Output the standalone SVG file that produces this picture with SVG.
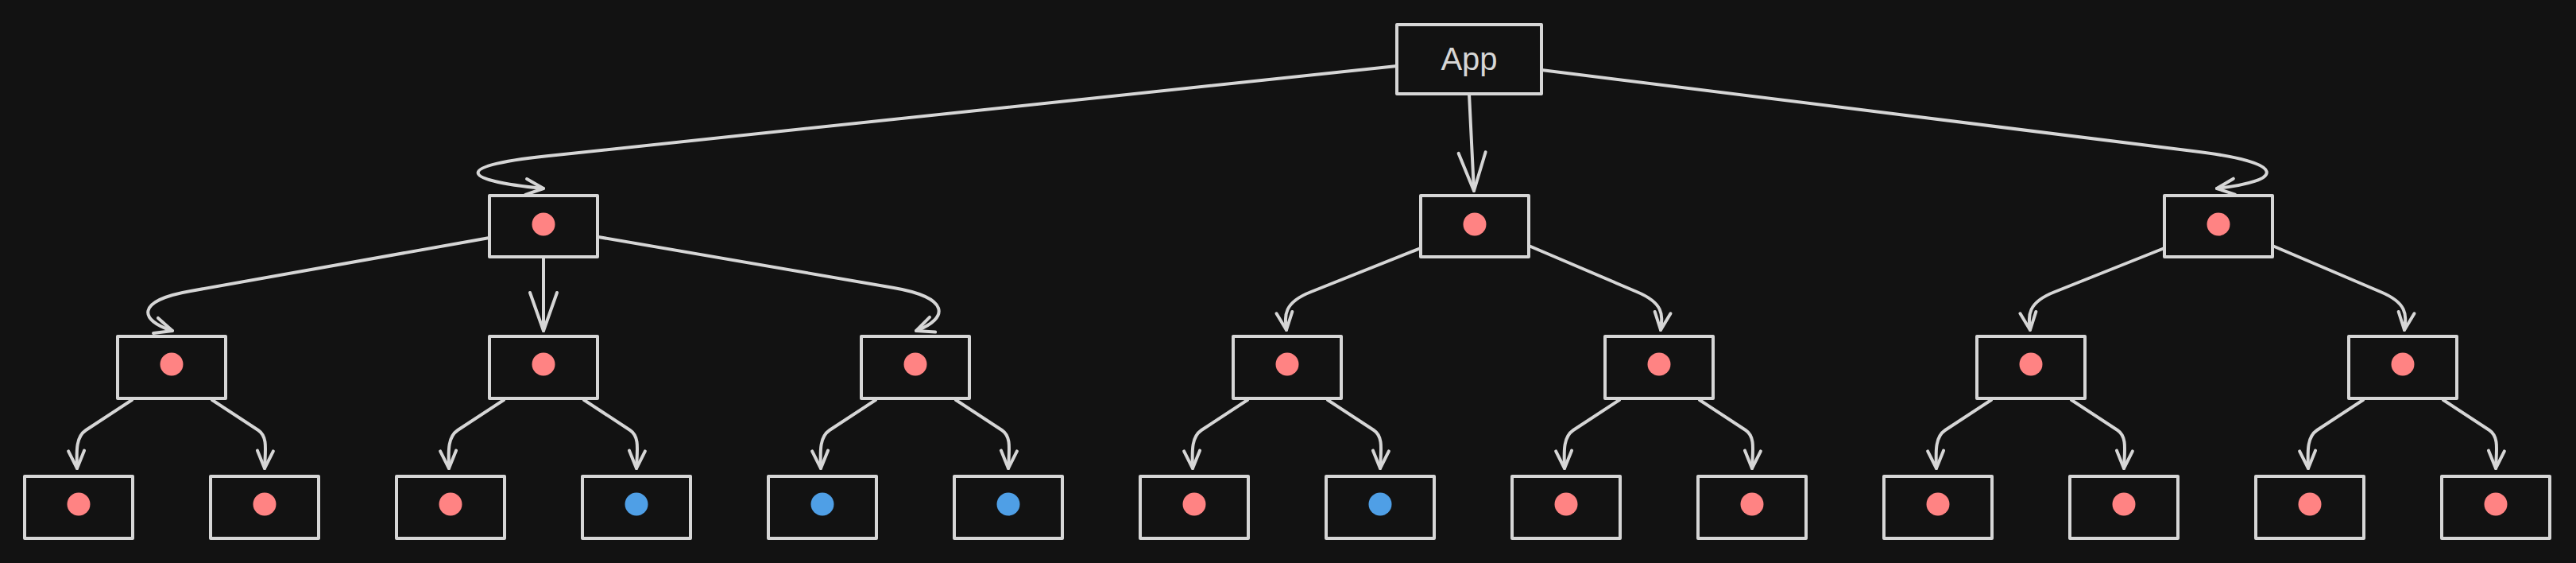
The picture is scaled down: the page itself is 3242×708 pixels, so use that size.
<svg xmlns="http://www.w3.org/2000/svg" width="3242" height="708" viewBox="0 0 3242 708">
<style>
.box{fill:#121212;stroke:#d6d6d6;stroke-width:4;stroke-linejoin:round}
.red{fill:#ff8383}
.blue{fill:#4f9fe6}
.edge{fill:none;stroke:#d6d6d6;stroke-width:4;stroke-linecap:round;stroke-linejoin:round}
.head{fill:none;stroke:#d6d6d6;stroke-width:4;stroke-linecap:round;stroke-linejoin:round}
.lbl{font-family:"Liberation Sans",sans-serif;font-size:40px;fill:#d6d6d6;text-anchor:middle}
</style>
<defs>
<marker id="ah" markerUnits="userSpaceOnUse" orient="auto" refX="0" refY="0" markerWidth="60" markerHeight="60" viewBox="-30 -30 60 60" overflow="visible">
<path class="head" d="M-22,-10 L0,0 L-22,10"/>
</marker>
<marker id="ahb" markerUnits="userSpaceOnUse" orient="auto" refX="0" refY="0" markerWidth="120" markerHeight="120" viewBox="-60 -60 120 120" overflow="visible">
<path class="head" d="M-48,-17 L0,0 L-48,17"/>
</marker>
</defs>
<rect width="3242" height="708" fill="#121212"/>

<g id="connectors">
<path class="edge" marker-end="url(#ah)" d="M1758 83 L700 195 C565 208,578 227,684 237"/>
<path class="edge" marker-end="url(#ahb)" d="M1849 118 L1855 240"/>
<path class="edge" marker-end="url(#ah)" d="M1940 88 L2760 190 C2885 205,2872 228,2790 237"/>
<path class="edge" marker-end="url(#ah)" d="M616 299 L240 366 C170 378,175 403,217 416"/>
<path class="edge" marker-end="url(#ahb)" d="M684 323 L684 416"/>
<path class="edge" marker-end="url(#ah)" d="M753 298 L1125 362 C1195 374,1195 400,1153 416"/>
<path class="edge" marker-end="url(#ah)" d="M1788 312 L1650 367 C1614 381,1617 398,1619 415"/>
<path class="edge" marker-end="url(#ah)" d="M1924 309 L2060 367 C2096 382,2092 398,2090 415"/>
<path class="edge" marker-end="url(#ah)" d="M2724 312 L2586 367 C2550 381,2553 398,2555 415"/>
<path class="edge" marker-end="url(#ah)" d="M2860 309 L2996 367 C3032 382,3028 398,3026 415"/>
<path class="edge" marker-end="url(#ah)" d="M166 503 L108 541 C96 549,96 565,97 589"/>
<path class="edge" marker-end="url(#ah)" d="M267 503 L325 541 C337 549,334 565,333 589"/>
<path class="edge" marker-end="url(#ah)" d="M634 503 L576 541 C564 549,564 565,565 589"/>
<path class="edge" marker-end="url(#ah)" d="M735 503 L793 541 C805 549,802 565,801 589"/>
<path class="edge" marker-end="url(#ah)" d="M1102 503 L1044 541 C1032 549,1032 565,1033 589"/>
<path class="edge" marker-end="url(#ah)" d="M1203 503 L1261 541 C1273 549,1270 565,1269 589"/>
<path class="edge" marker-end="url(#ah)" d="M1570 503 L1512 541 C1500 549,1500 565,1501 589"/>
<path class="edge" marker-end="url(#ah)" d="M1671 503 L1729 541 C1741 549,1738 565,1737 589"/>
<path class="edge" marker-end="url(#ah)" d="M2038 503 L1980 541 C1968 549,1968 565,1969 589"/>
<path class="edge" marker-end="url(#ah)" d="M2139 503 L2197 541 C2209 549,2206 565,2205 589"/>
<path class="edge" marker-end="url(#ah)" d="M2506 503 L2448 541 C2436 549,2436 565,2437 589"/>
<path class="edge" marker-end="url(#ah)" d="M2607 503 L2665 541 C2677 549,2674 565,2673 589"/>
<path class="edge" marker-end="url(#ah)" d="M2974 503 L2916 541 C2904 549,2904 565,2905 589"/>
<path class="edge" marker-end="url(#ah)" d="M3075 503 L3133 541 C3145 549,3142 565,3141 589"/>
</g>

<g id="app"><rect class="box" x="1758" y="31" width="182" height="87"/><text class="lbl" x="1849" y="88">App</text></g>

<g id="l1-a"><rect class="box" x="616" y="246" width="136" height="77"/><circle class="red" cx="684" cy="282" r="14.5"/></g>
<g id="l1-b"><rect class="box" x="1788" y="246" width="136" height="77"/><circle class="red" cx="1856" cy="282" r="14.5"/></g>
<g id="l1-c"><rect class="box" x="2724" y="246" width="136" height="77"/><circle class="red" cx="2792" cy="282" r="14.5"/></g>

<g id="l2-a"><rect class="box" x="148" y="423" width="136" height="78"/><circle class="red" cx="216" cy="458" r="14.5"/></g>
<g id="l2-b"><rect class="box" x="616" y="423" width="136" height="78"/><circle class="red" cx="684" cy="458" r="14.5"/></g>
<g id="l2-c"><rect class="box" x="1084" y="423" width="136" height="78"/><circle class="red" cx="1152" cy="458" r="14.5"/></g>
<g id="l2-d"><rect class="box" x="1552" y="423" width="136" height="78"/><circle class="red" cx="1620" cy="458" r="14.5"/></g>
<g id="l2-e"><rect class="box" x="2020" y="423" width="136" height="78"/><circle class="red" cx="2088" cy="458" r="14.5"/></g>
<g id="l2-f"><rect class="box" x="2488" y="423" width="136" height="78"/><circle class="red" cx="2556" cy="458" r="14.5"/></g>
<g id="l2-g"><rect class="box" x="2956" y="423" width="136" height="78"/><circle class="red" cx="3024" cy="458" r="14.5"/></g>

<g id="leaf-1"><rect class="box" x="31" y="599" width="136" height="78"/><circle class="red" cx="99" cy="634" r="14.5"/></g>
<g id="leaf-2"><rect class="box" x="265" y="599" width="136" height="78"/><circle class="red" cx="333" cy="634" r="14.5"/></g>
<g id="leaf-3"><rect class="box" x="499" y="599" width="136" height="78"/><circle class="red" cx="567" cy="634" r="14.5"/></g>
<g id="leaf-4"><rect class="box" x="733" y="599" width="136" height="78"/><circle class="blue" cx="801" cy="634" r="14.5"/></g>
<g id="leaf-5"><rect class="box" x="967" y="599" width="136" height="78"/><circle class="blue" cx="1035" cy="634" r="14.5"/></g>
<g id="leaf-6"><rect class="box" x="1201" y="599" width="136" height="78"/><circle class="blue" cx="1269" cy="634" r="14.5"/></g>
<g id="leaf-7"><rect class="box" x="1435" y="599" width="136" height="78"/><circle class="red" cx="1503" cy="634" r="14.5"/></g>
<g id="leaf-8"><rect class="box" x="1669" y="599" width="136" height="78"/><circle class="blue" cx="1737" cy="634" r="14.5"/></g>
<g id="leaf-9"><rect class="box" x="1903" y="599" width="136" height="78"/><circle class="red" cx="1971" cy="634" r="14.5"/></g>
<g id="leaf-10"><rect class="box" x="2137" y="599" width="136" height="78"/><circle class="red" cx="2205" cy="634" r="14.5"/></g>
<g id="leaf-11"><rect class="box" x="2371" y="599" width="136" height="78"/><circle class="red" cx="2439" cy="634" r="14.5"/></g>
<g id="leaf-12"><rect class="box" x="2605" y="599" width="136" height="78"/><circle class="red" cx="2673" cy="634" r="14.5"/></g>
<g id="leaf-13"><rect class="box" x="2839" y="599" width="136" height="78"/><circle class="red" cx="2907" cy="634" r="14.5"/></g>
<g id="leaf-14"><rect class="box" x="3073" y="599" width="136" height="78"/><circle class="red" cx="3141" cy="634" r="14.5"/></g>
</svg>
